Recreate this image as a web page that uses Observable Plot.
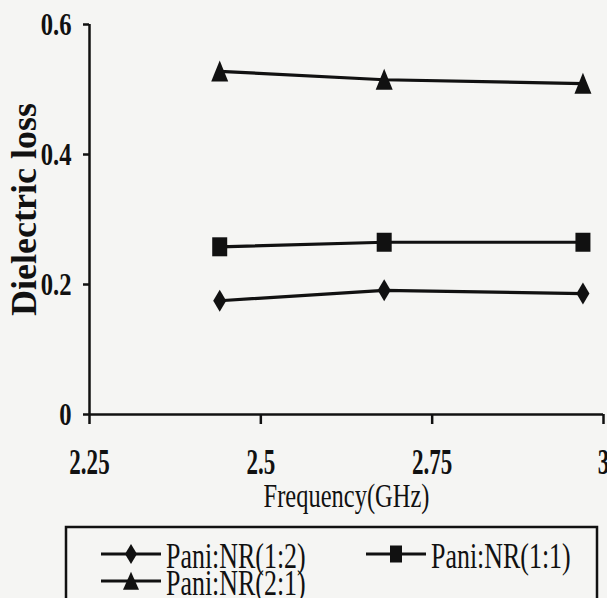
<!DOCTYPE html>
<html><head><meta charset="utf-8">
<script src="https://cdn.jsdelivr.net/npm/d3@7"></script>
<script src="https://cdn.jsdelivr.net/npm/@observablehq/plot@0.6"></script>
<style>
body{margin:0;background:#f5f5f3;}
#wrap{position:relative;width:607px;height:598px;overflow:hidden;}
#wrap svg{position:absolute;left:0;top:0;}
</style></head><body><div id="wrap"></div>
<script>
const frequencies = [2.44, 2.68, 2.97];
const seriesNames = ["Pani:NR(1:2)", "Pani:NR(1:1)", "Pani:NR(2:1)"];
const lossNR12 = [0.175, 0.191, 0.186];
const lossNR11 = [0.258, 0.265, 0.265];
const lossNR21 = [0.528, 0.515, 0.509];
const xTicks = [2.25, 2.5, 2.75, 3];
const xTickLabels = ["2.25", "2.5", "2.75", "3"];
const yTicks = [0, 0.2, 0.4, 0.6];
const yTickLabels = ["0", "0.2", "0.4", "0.6"];
const xLabel = "Frequency(GHz)";
const yLabel = "Dielectric loss";

const ink = "#111";
const font = "'Liberation Serif', 'Times New Roman', serif";

function diamondSym(w, h) { return {draw(c){ c.moveTo(0,-h/2); c.lineTo(w/2,0); c.lineTo(0,h/2); c.lineTo(-w/2,0); c.closePath(); }}; }
function squareSym(w, h) { return {draw(c){ c.rect(-w/2,-h/2,w,h); }}; }
function triangleSym(w, h) { return {draw(c){ c.moveTo(0,-h*0.52); c.lineTo(w/2,h*0.48); c.lineTo(-w/2,h*0.48); c.closePath(); }}; }

const symbols = [diamondSym(13, 22), squareSym(15, 19), triangleSym(17, 21)];
const values = [lossNR12, lossNR11, lossNR21];

const table = [];
seriesNames.forEach((s, k) => frequencies.forEach((f, i) => table.push({series: s, k, freq: f, loss: values[k][i]})));

const seriesMarks = [];
seriesNames.forEach((s, k) => {
  const d = table.filter(r => r.series === s);
  seriesMarks.push(Plot.line(d, {x: "freq", y: "loss", stroke: ink, strokeWidth: 3.2}));
  seriesMarks.push(Plot.dot(d, {x: "freq", y: "loss", symbol: symbols[k], fill: ink, stroke: "none", r: 8}));
});

const chart = Plot.plot({
  width: 607, height: 598,
  marginLeft: 89, marginRight: 4, marginTop: 24, marginBottom: 184,
  style: {background: "transparent", fontFamily: font, color: ink, overflow: "visible"},
  x: {domain: [2.25, 3]},
  y: {domain: [0, 0.6]},
  marks: [
    Plot.axisX(xTicks, {tickFormat: () => "", tickSize: 10, strokeWidth: 2.5, stroke: ink, label: null}),
    Plot.axisY(yTicks, {tickFormat: () => "", tickSize: 6, strokeWidth: 2.5, stroke: ink, label: null}),
    Plot.ruleX([2.25], {y1: 0, y2: 0.6, stroke: ink, strokeWidth: 2.5}),
    Plot.ruleY([0], {stroke: ink, strokeWidth: 2.5}),
    ...seriesMarks,
    Plot.text(xTicks, {x: d => d, y: 0, text: (d, i) => xTickLabels[i], dy: 59, lineAnchor: "bottom", textAnchor: "middle", fontSize: 36, fontWeight: "bold", fill: ink, fontFamily: font}),
    Plot.text(yTicks, {x: 2.25, y: d => d, text: (d, i) => yTickLabels[i], dx: -18, lineAnchor: "middle", textAnchor: "end", fontSize: 32, fontWeight: "bold", fill: ink, fontFamily: font}),
    Plot.text([xLabel], {text: d => d, frameAnchor: "bottom", dy: 92, lineAnchor: "bottom", textAnchor: "middle", fontSize: 34, fill: ink, fontFamily: font}),
    Plot.text([yLabel], {text: d => d, frameAnchor: "left", rotate: -90, dx: -54, dy: -10, lineAnchor: "bottom", textAnchor: "middle", fontSize: 36, fontWeight: "bold", fill: ink, fontFamily: font})
  ]
});
document.getElementById("wrap").appendChild(chart);

function fit(el, s) {
  const L = el.getComputedTextLength();
  if (L > 0) { el.setAttribute("textLength", (L * s).toFixed(2)); el.setAttribute("lengthAdjust", "spacingAndGlyphs"); }
}
chart.querySelectorAll("text").forEach(el => {
  const t = el.textContent;
  if (t === xLabel) fit(el, 0.72);
  else if (t === yLabel) {}
  else if (xTickLabels.includes(t) && el.getAttribute("text-anchor") !== "end") fit(el, 0.64);
  else if (yTickLabels.includes(t)) fit(el, 0.77);
});

const leg = d3.select("#wrap").append("svg").attr("width", 607).attr("height", 598)
  .style("pointer-events", "none").attr("font-family", font);
leg.append("rect").attr("x", 66).attr("y", 527).attr("width", 531).attr("height", 110)
  .attr("fill", "none").attr("stroke", ink).attr("stroke-width", 2.5);
const legSyms = [diamondSym(12, 20), squareSym(12, 17), triangleSym(16, 18)];
const legPos = [{x: 101, y: 554}, {x: 366, y: 554}, {x: 101, y: 581}];
seriesNames.forEach((s, k) => {
  const p = legPos[k];
  const g = leg.append("g").attr("transform", `translate(${p.x},${p.y})`);
  g.append("line").attr("x1", 0).attr("x2", 60).attr("stroke", ink).attr("stroke-width", 3.2);
  const path = d3.path(); legSyms[k].draw(path);
  g.append("path").attr("d", path.toString()).attr("transform", "translate(30,0)").attr("fill", ink);
  const tx = g.append("text").attr("x", 65).attr("y", 14).attr("font-size", 36)
    .attr("font-family", font).attr("fill", ink).text(s);
  fit(tx.node(), 0.72);
});
</script></body></html>
